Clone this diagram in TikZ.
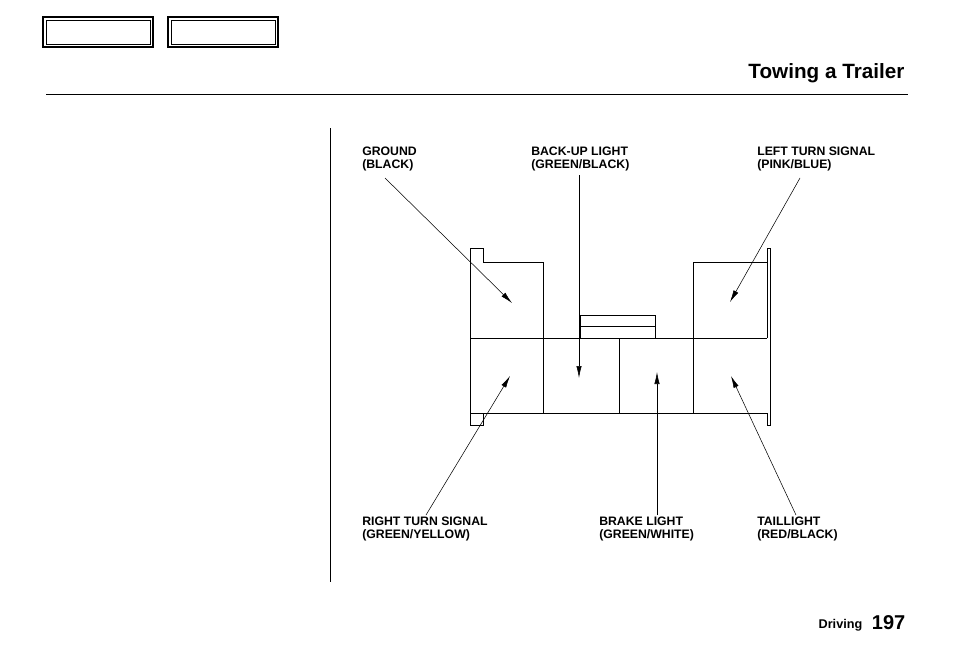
\documentclass[tikz,border=0pt]{standalone}
\usepackage{fontspec}
\setmainfont{Liberation Sans}
\usetikzlibrary{positioning,arrows.meta}
\tikzset{>={Latex[length=9pt,width=4pt]}}
\tikzset{lbl/.style={font=\fontsize{9.2}{9.5}\selectfont\bfseries,align=left,inner sep=0pt,anchor=north west},
  ptr/.style={->,thin},
  blk/.style={line width=0.6pt}}
\begin{document}
\begin{tikzpicture}[x=0.75pt,y=-0.75pt]
\useasboundingbox (0,0) rectangle (954,650);
% header tabs
\draw[thick] (43,17) rectangle (153,47);
\draw[thin] (46,20) rectangle (150,44);
\draw[thick] (168,17) rectangle (278,47);
\draw[thin] (171,20) rectangle (275,44);
\node[anchor=east,font=\fontsize{15.5}{17}\selectfont\bfseries] (title) at (909,73) {Towing a Trailer};
\draw[thin] (46,94) -- (908,94);
\draw[thin] (330,128) -- (330,582);
% connector outline
\draw[blk] (470,413) -- (470,248) -- (483,248) -- (483,262) -- (543,262) -- (543,338);
\draw[blk] (470,338) -- (767,338);
\draw[blk] (470,413) -- (767,413);
\draw[blk] (543,338) -- (543,413) (619,338) -- (619,413) (693,338) -- (693,413);
\draw[blk] (693,338) -- (693,262) -- (767,262) -- (767,248) -- (770,248) -- (770,425) -- (767,425) -- (767,413);
\draw[blk] (767,262) -- (767,338);
\draw[blk] (470,413) -- (470,425) -- (483,425) -- (483,413);
\draw[blk] (580,338) -- (580,315) -- (655,315) -- (655,338) (580,326) -- (655,326);
% labels
\node[lbl] (gnd) at (362,147) {GROUND\\(BLACK)};
\node[lbl] (bkup) at (531,147) {BACK-UP LIGHT\\(GREEN/BLACK)};
\node[lbl] (lts) at (757,147) {LEFT TURN SIGNAL\\(PINK/BLUE)};
\node[lbl] (rts) at (362,517) {RIGHT TURN SIGNAL\\(GREEN/YELLOW)};
\node[lbl] (brk) at (599,517) {BRAKE LIGHT\\(GREEN/WHITE)};
\node[lbl] (tail) at (757,517) {TAILLIGHT\\(RED/BLACK)};
% pointers
\coordinate (gndT) at (512,303);
\coordinate (bkupT) at (579,378);
\coordinate (ltsT) at (730,302);
\coordinate (rtsT) at (510,376);
\coordinate (brkT) at (657,372);
\coordinate (tailT) at (731,376);
\draw[ptr] (385,178) -- (gndT);
\draw[ptr] (579,175) -- (bkupT);
\draw[ptr] (800,178) -- (ltsT);
\draw[ptr] (426,515) -- (rtsT);
\draw[ptr] (657,515) -- (brkT);
\draw[ptr] (796,515) -- (tailT);
% footer
\node[anchor=base east,font=\fontsize{9.5}{10}\selectfont\bfseries] (sect) at (867,628) {Driving};
\node[anchor=base east,font=\fontsize{15}{16}\selectfont\bfseries] (pg) at (910,629) {197};
\end{tikzpicture}
\end{document}
